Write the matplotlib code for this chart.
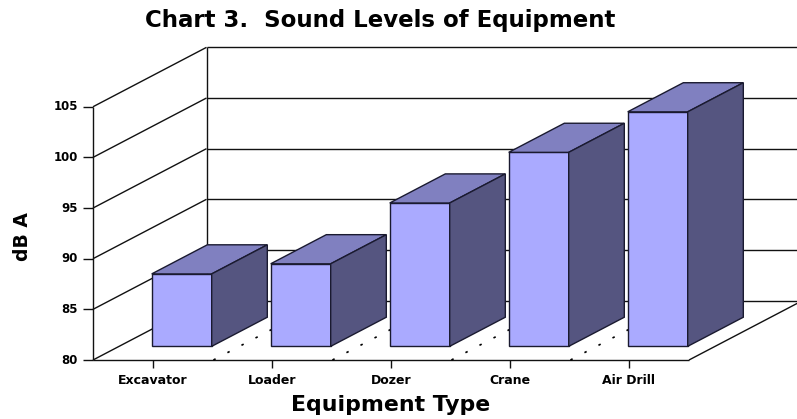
import matplotlib
matplotlib.use('Agg')
import matplotlib.pyplot as plt

equipment = ['Excavator', 'Loader', 'Dozer', 'Crane', 'Air Drill']
levels = [88, 89, 95, 100, 104]
y_ticks = [80, 85, 90, 95, 100, 105]

W, H = 797, 419
# axes fill the figure, x = category number, y = dBA
PX_X = 119.0   # px per category
PX_Y = 10.13   # px per dBA
X0 = 152.7     # px of first tick
Y0 = 360.0     # px of 80 dBA on the front plane

DX = 113.5 / PX_X   # full floor depth in data units
DY = 59.4 / PX_Y

LEFT = (93 - X0) / PX_X
RIGHT = (689 - X0) / PX_X

BAR_W = 60 / PX_X
BAR_D0 = 0.23    # where the bars start in the depth
BAR_D = 0.49     # bar depth
BAR_SHIFT = 0.85   # the bars sit a bit lower than the wall scale
BAR_X = -1 / PX_X - BAR_D0 * DX

FRONT = '#AAAAFF'
TOP = '#8080C0'
SIDE = '#555580'
LINE = '#111111'


def proj(x, v, d=0.0):
    return x + d * DX, v + d * DY


def line3(x1, v1, d1, x2, v2, d2, **kw):
    a, b = proj(x1, v1, d1), proj(x2, v2, d2)
    kw.setdefault('color', LINE)
    kw.setdefault('lw', 1.0)
    ax.plot([a[0], b[0]], [a[1], b[1]], solid_capstyle='butt', **kw)


def face(pts, color):
    xy = [proj(*p) for p in pts]
    ax.fill([p[0] for p in xy], [p[1] for p in xy], facecolor=color,
            edgecolor='#1a1a30', lw=1.0, joinstyle='miter', zorder=5)


fig = plt.figure(figsize=(W / 100, H / 100), dpi=100)
ax = fig.add_axes([0, 0, 1, 1])
ax.set_xlim(-X0 / PX_X, (W - X0) / PX_X)
ax.set_ylim(80 - (H - Y0) / PX_Y, 80 + Y0 / PX_Y)
ax.axis('off')

# walls and grid
for t in y_ticks:
    line3(LEFT, t, 0, LEFT, t, 1)
    line3(LEFT, t, 1, RIGHT, t, 1)
    line3(LEFT, t, 0, LEFT - 10 / PX_X, t, 0)
    ax.text(LEFT - 15 / PX_X, t, str(t), ha='right', va='center',
            fontsize=8.5, fontweight='bold', color='black')
line3(LEFT, 80, 0, LEFT, 105, 0)
line3(LEFT, 80, 1, LEFT, 105, 1)
line3(LEFT, 80, 0, RIGHT, 80, 0)
line3(RIGHT, 80, 0, RIGHT, 80, 1)

# dashed floor lines between the categories
for i in range(len(equipment) - 1):
    line3(i + 0.51, 80, 0, i + 0.51, 80, 1, ls=(0, (1.5, 8)), lw=1.2, color='black')

for i, name in enumerate(equipment):
    line3(i, 80, 0, i, 80 - 8 / PX_Y, 0)
    ax.text(i, 80 - 20 / PX_Y, name, ha='center', va='center',
            fontsize=9, fontweight='bold', color='black')

# bars
for i, v in enumerate(levels):
    x1, x2 = i + BAR_X, i + BAR_X + BAR_W
    d1, d2 = BAR_D0, BAR_D0 + BAR_D
    top = v - BAR_SHIFT
    face([(x1, 80, d1), (x2, 80, d1), (x2, top, d1), (x1, top, d1)], FRONT)
    face([(x1, top, d1), (x2, top, d1), (x2, top, d2), (x1, top, d2)], TOP)
    face([(x2, 80, d1), (x2, 80, d2), (x2, top, d2), (x2, top, d1)], SIDE)

ax.text((380 - X0) / PX_X, 80 + (Y0 - 20) / PX_Y, 'Chart 3.  Sound Levels of Equipment',
        ha='center', va='center', fontsize=16.5, fontweight='bold', color='black')
ax.text((391 - X0) / PX_X, 80 + (Y0 - 405) / PX_Y, 'Equipment Type',
        ha='center', va='center', fontsize=15.8, fontweight='bold', color='black')
ax.text((22 - X0) / PX_X, 80 + (Y0 - 237) / PX_Y, 'dB A', rotation=90,
        ha='center', va='center', fontsize=13.5, fontweight='bold', color='black')

fig.savefig('out.png', dpi=100)
